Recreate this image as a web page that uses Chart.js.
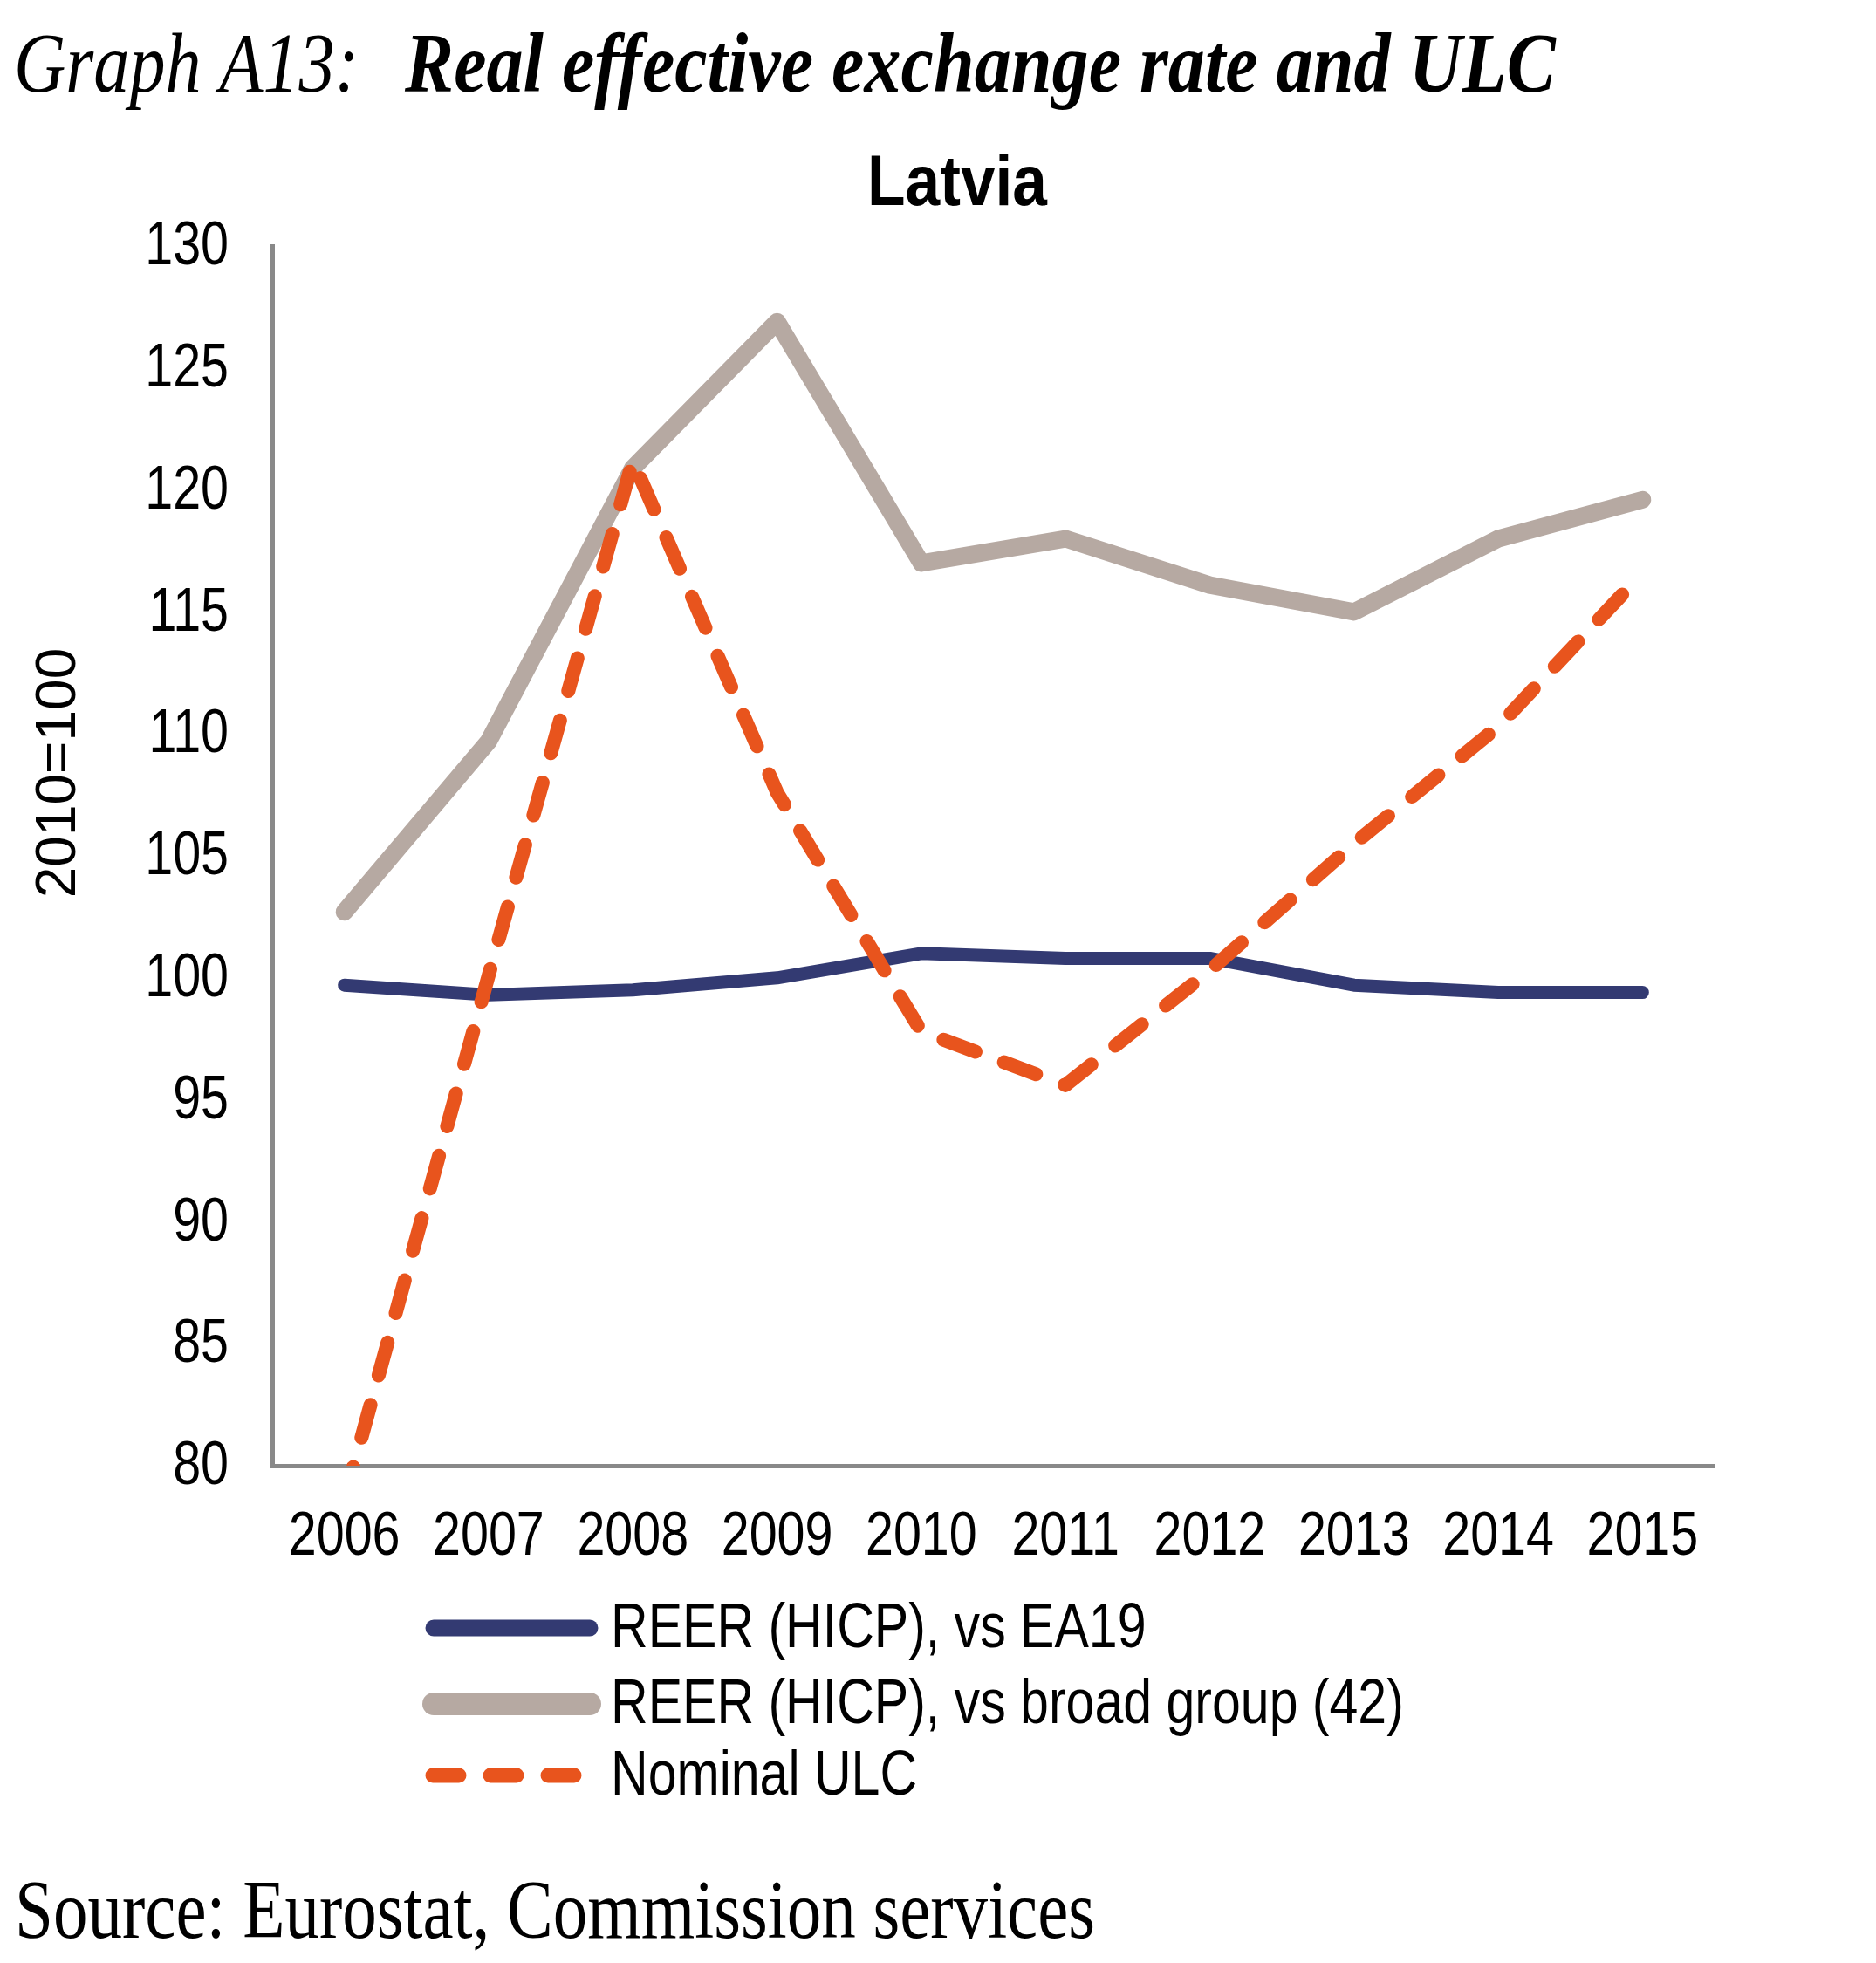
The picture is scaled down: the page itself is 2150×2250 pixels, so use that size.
<!DOCTYPE html>
<html>
<head>
<meta charset="utf-8">
<script src="https://cdn.jsdelivr.net/npm/chart.js@4.4.1/dist/chart.umd.min.js"></script>
<style>
  html, body { margin: 0; padding: 0; background: #fff; }
  #wrap { position: relative; width: 2150px; height: 2250px; }
</style>
</head>
<body>
<div id="wrap"><canvas id="myChart" width="2150" height="2250"></canvas></div>
<script>
const years = ['2006', '2007', '2008', '2009', '2010', '2011', '2012', '2013', '2014', '2015'];
const reerEA19 = [99.7, 99.3, 99.5, 100.0, 101.0, 100.8, 100.8, 99.7, 99.4, 99.4];
const reerBroad = [102.7, 109.7, 120.9, 126.9, 117.0, 118.0, 116.1, 115.0, 118.0, 119.6];
const nominalULC = [78.6, 100.1, 121.2, 107.6, 97.8, 95.6, 100.3, 105.5, 110.3, 116.6];
const seriesNames = ['REER (HICP), vs EA19', 'REER (HICP), vs broad group (42)', 'Nominal ULC'];

const headingLead = 'Graph A13:';
const headingMain = 'Real effective exchange rate and ULC';
const countryName = 'Latvia';
const yAxisName = '2010=100';
const sourceNote = 'Source: Eurostat, Commission services';

// pick a narrow sans if the box has one, otherwise squeeze Liberation Sans
function hasFont(name) {
    const c = document.createElement('canvas').getContext('2d');
    const t = 'mmmmwwwlli 2006 REER';
    c.font = '40px monospace';
    const a = c.measureText(t).width;
    c.font = '40px "' + name + '", monospace';
    return c.measureText(t).width !== a;
}
let narrow = '"Liberation Sans"';
let narrowScale = 0.82;
if (hasFont('Liberation Sans Narrow')) { narrow = '"Liberation Sans Narrow"'; narrowScale = 1; }

function fitText(ctx, txt, x, y, w) {
    const m = ctx.measureText(txt).width;
    ctx.save();
    ctx.translate(x, y);
    ctx.scale(w / m, 1);
    ctx.fillText(txt, 0, 0);
    ctx.restore();
}

function squeezeText(ctx, txt, x, y) {
    ctx.save();
    ctx.translate(x, y);
    ctx.scale(narrowScale, 1);
    ctx.fillText(txt, 0, 0);
    ctx.restore();
}

const decorPlugin = {
    id: 'decor',
    afterDraw(chart) {
        const ctx = chart.ctx;
        ctx.save();
        ctx.fillStyle = '#000';
        ctx.textAlign = 'left';
        ctx.textBaseline = 'alphabetic';

        ctx.font = 'italic 98px "Liberation Serif"';
        fitText(ctx, headingLead, 16, 105, 395);
        ctx.font = 'italic bold 98px "Liberation Serif"';
        fitText(ctx, headingMain, 464, 105, 1319);

        ctx.font = 'bold 81px "Liberation Sans"';
        fitText(ctx, countryName, 1097 - 103, 235, 206);

        ctx.font = '95px "Liberation Serif"';
        fitText(ctx, sourceNote, 17, 2221, 1238);

        // tick labels, condensed like the original
        ctx.font = '70px ' + narrow;
        const xs = chart.scales.x;
        const ys = chart.scales.y;
        ctx.textAlign = 'center';
        ctx.textBaseline = 'middle';
        xs.ticks.forEach((t, i) => {
            squeezeText(ctx, xs.getLabelForValue(t.value), xs.getPixelForTick(i), 1763);
        });
        ctx.textAlign = 'right';
        ys.ticks.forEach((t, i) => {
            squeezeText(ctx, t.label, 262, ys.getPixelForTick(i) + 2);
        });

        // rotated unit label
        ctx.save();
        ctx.translate(68, 886);
        ctx.rotate(-Math.PI / 2);
        ctx.font = '64px "Liberation Sans"';
        ctx.textAlign = 'center';
        ctx.textBaseline = 'middle';
        ctx.fillText(yAxisName, 0, 0);
        ctx.restore();

        // legend, one row per dataset
        const rows = [1866, 1953, 2035];
        const extra = [4, 6, 1];
        ctx.textAlign = 'left';
        chart.data.datasets.forEach((ds, i) => {
            const y = rows[i];
            ctx.save();
            ctx.strokeStyle = ds.borderColor;
            ctx.lineWidth = ds.borderWidth + extra[i];
            ctx.lineCap = 'round';
            ctx.setLineDash(ds.borderDash ? [30, 36] : []);
            ctx.beginPath();
            ctx.moveTo(ds.borderDash ? 496 : 497, y);
            ctx.lineTo(ds.borderDash ? 680 : 676, y);
            ctx.stroke();
            ctx.restore();
            ctx.font = '72px ' + narrow;
            ctx.textBaseline = 'middle';
            squeezeText(ctx, ds.label, 700, y + 2);
        });
        ctx.restore();
    }
};

const ctx = document.getElementById('myChart').getContext('2d');
new Chart(ctx, {
    type: 'line',
    data: {
        labels: years,
        datasets: [
            {
                label: seriesNames[0],
                data: reerEA19,
                borderColor: '#333A72',
                borderWidth: 15,
                order: 1
            },
            {
                label: seriesNames[1],
                data: reerBroad,
                borderColor: '#B6A9A2',
                borderWidth: 20,
                order: 2
            },
            {
                label: seriesNames[2],
                data: nominalULC,
                borderColor: '#E8541D',
                borderWidth: 16,
                borderDash: [39, 35],
                order: 0
            }
        ]
    },
    options: {
        responsive: false,
        devicePixelRatio: 1,
        animation: false,
        clip: { left: 30, top: 30, right: 30, bottom: 0 },
        elements: {
            point: { radius: 0, hoverRadius: 0 },
            line: { tension: 0, borderCapStyle: 'round', borderJoinStyle: 'round', fill: false }
        },
        layout: { padding: { left: 20, right: 185, top: 282, bottom: 420 } },
        plugins: {
            legend: { display: false },
            title: { display: false },
            tooltip: { enabled: false }
        },
        scales: {
            x: {
                offset: true,
                grid: { display: false, drawTicks: false },
                border: { display: true, color: '#898989', width: 5 },
                ticks: { display: false },
                afterFit(scale) { scale.height = 150; }
            },
            y: {
                min: 80,
                max: 130,
                grid: { display: false, drawTicks: false },
                border: { display: true, color: '#898989', width: 5 },
                ticks: { display: false, stepSize: 5 },
                afterFit(scale) { scale.width = 292; }
            }
        }
    },
    plugins: [decorPlugin]
});
</script>
</body>
</html>
